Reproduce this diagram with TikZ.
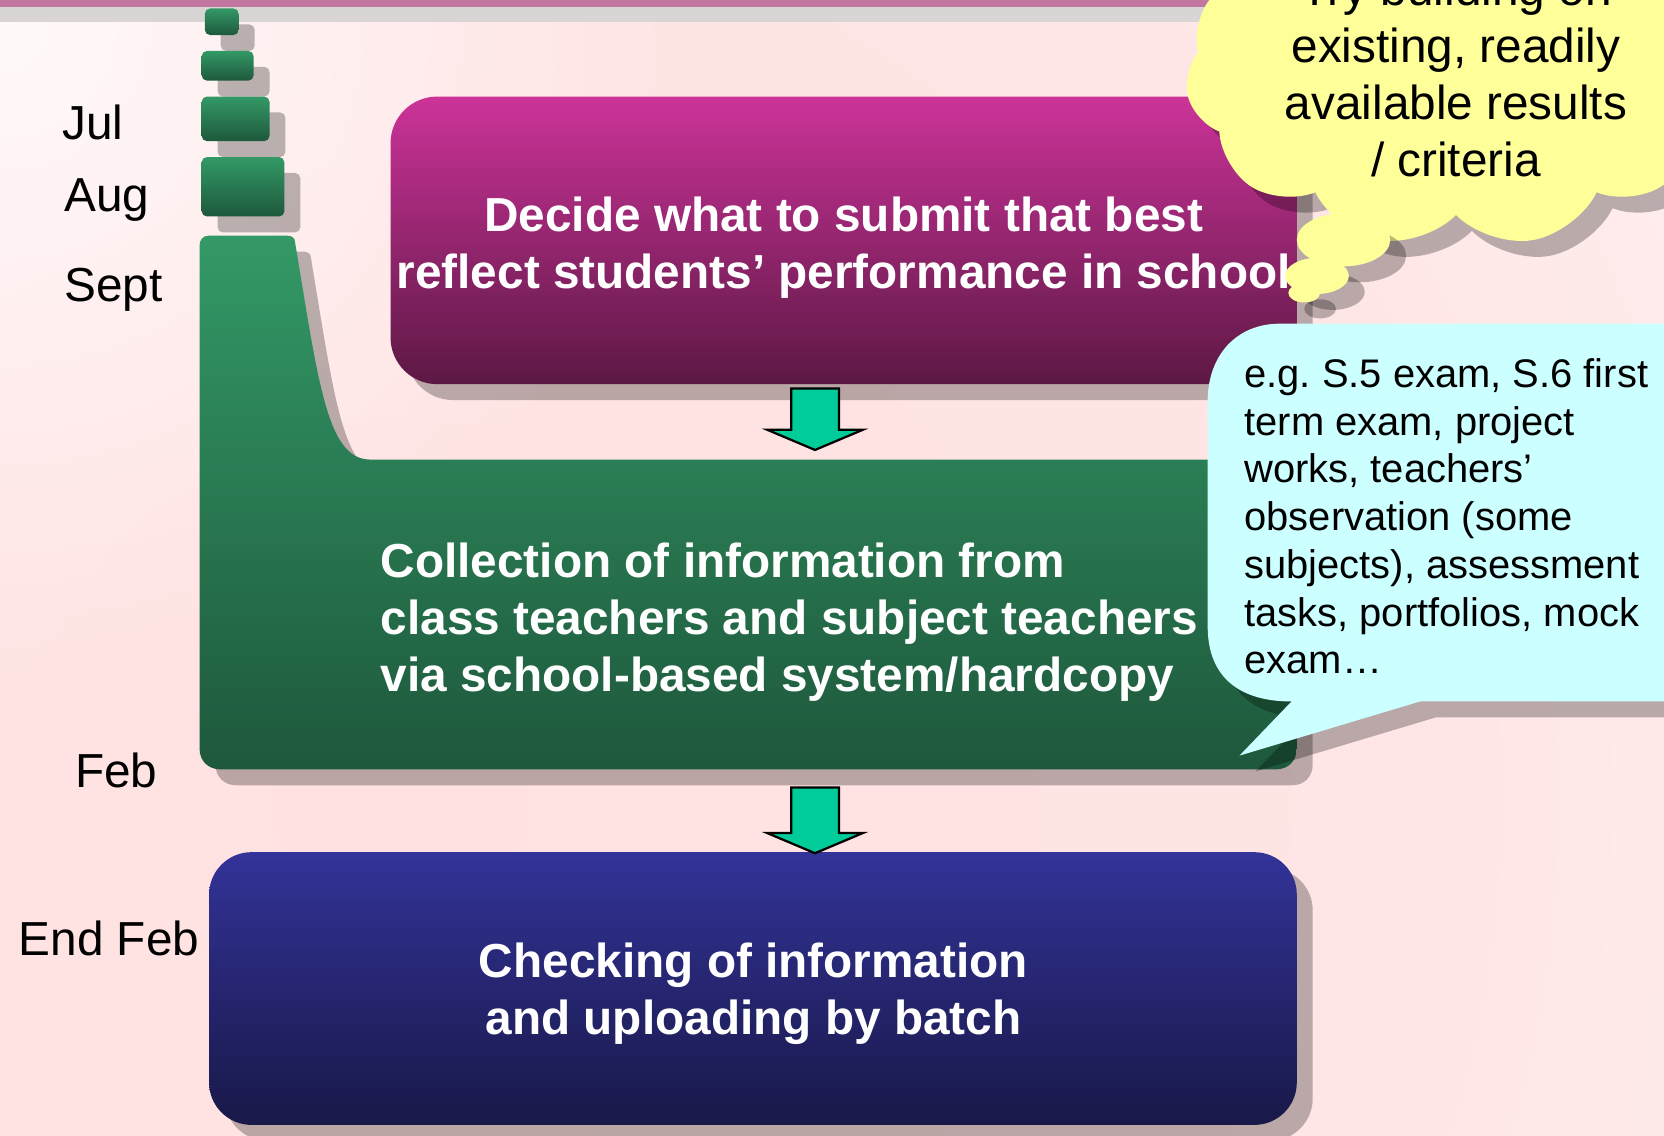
\documentclass[tikz,border=0pt]{standalone}
\usepackage{fontspec}
\setmainfont{Liberation Sans}
\usetikzlibrary{shapes.symbols,shadows,fadings,positioning}

\definecolor{bgdeep}{RGB}{255,225,225}
\definecolor{bgmid}{RGB}{255,229,229}
\definecolor{bglight}{RGB}{255,249,249}
\definecolor{bandpink}{RGB}{192,118,158}
\definecolor{bandgray}{RGB}{218,213,213}
\definecolor{greentop}{RGB}{51,153,102}
\definecolor{greenbot}{RGB}{30,88,60}
\definecolor{magtop}{RGB}{204,51,153}
\definecolor{magbot}{RGB}{92,24,68}
\definecolor{bluetop}{RGB}{51,51,153}
\definecolor{bluebot}{RGB}{24,24,72}
\definecolor{arrowgreen}{RGB}{0,204,153}
\definecolor{tipyellow}{RGB}{255,255,153}
\definecolor{notecyan}{RGB}{204,255,255}

% soft pink glow of the slide
\pgfdeclareradialshading{bgglow}{\pgfpoint{0bp}{0bp}}{color(0bp)=(bgdeep); color(12bp)=(bgmid); color(25bp)=(bglight); color(50bp)=(bglight)}
\tikzfading[name=cornerfade, inner color=transparent!0, outer color=transparent!100]

\tikzset{
  boxshadow/.style={drop shadow={shadow xshift=1.5mm,shadow yshift=-1.5mm,fill=black,opacity=.27}},
  greenpart/.style={top color=greentop,bottom color=greenbot,boxshadow},
  stagebox/.style={rounded corners=4.4mm,inner sep=0,boxshadow},
  stagetext/.style={text=white,font=\bfseries\fontsize{12.8}{15.3}\selectfont,align=center,inner sep=0},
  monthlabel/.style={font=\fontsize{12.8}{15.3}\selectfont,inner sep=0,anchor=base west},
  downarrow/.style={fill=arrowgreen,draw=black,line width=0.6pt,line join=miter}
}

\begin{document}
\frenchspacing
\begin{tikzpicture}[x=0.1mm,y=-0.1mm]
  \useasboundingbox (0,0) rectangle (1568,1070);
  \clip (0,0) rectangle (1568,1070);

  % background and top bands
  \fill[bgmid] (0,0) rectangle (1568,1070);
  \shade[shading=bgglow] (377,754) circle [radius=2000];
  \fill[white,opacity=.8,path fading=cornerfade] (0,21) circle [radius=640];
  \fill[bandpink] (0,0) rectangle (1568,7);
  \fill[bandgray] (0,7) rectangle (1568,21);

  % growing green blocks
  \foreach \xa/\ya/\xb/\yb in {193/8/225/33, 190/48/239/76, 190/91/254/133, 190/148/268/204}
    \path[greenpart,rounded corners=0.5mm] (\xa,\ya) rectangle (\xb,\yb);

  % big green stage
  \path[greenpart]
    (188,232) .. controls (188,226) and (191,222) .. (197,222)
    -- (270,222) .. controls (275,222) and (278,224) .. (278,228)
    .. controls (300,360) and (308,432) .. (348,433)
    -- (1207,433) .. controls (1216,433) and (1222,439) .. (1222,448)
    -- (1222,705) .. controls (1222,717) and (1214,725) .. (1202,725)
    -- (208,725) .. controls (196,725) and (188,717) .. (188,705)
    -- cycle;

  % magenta stage
  \node (decide) [stagebox,top color=magtop,bottom color=magbot,
    minimum width=85.4mm,minimum height=27.1mm] at (795,226.5) {};
  \node (decidetext) [stagetext] at (795,233)
    {Decide what to submit that best\\reflect students’ performance in school};

  \node (collecttext) [stagetext,align=left,anchor=west] at (358,586.5)
    {Collection of information from\\class teachers and subject teachers\\via school-based system/hardcopy};

  % blue stage
  \node (check) [stagebox,rounded corners=4mm,top color=bluetop,bottom color=bluebot,
    minimum width=102.5mm,minimum height=25.7mm] at (709.5,931.5) {};
  \node (checktext) [stagetext] at (710,936.5)
    {Checking of information\\and uploading by batch};

  % block arrows
  \coordinate (arrowa) at (768,366);
  \coordinate (arrowb) at (768,742);
  \foreach \a/\len in {arrowa/39, arrowb/43}
    \draw[downarrow] (\a) ++(-22.5,0) -- ++(0,\len) -- ++(-22.5,0) -- ++(45,19)
      -- ++(45,-19) -- ++(-22.5,0) -- ++(0,-\len) -- cycle;

  % cyan note
  \path[fill=notecyan,boxshadow]
    (1138,590) -- (1138,378) .. controls (1138,335) and (1165,305) .. (1206,305)
    -- (1620,305) -- (1620,661) -- (1338,661) -- (1168,712) -- (1217,661)
    .. controls (1170,661) and (1138,640) .. (1138,590) -- cycle;
  \node (notetext) [font=\fontsize{10.7}{12.8}\selectfont,align=left,inner sep=0,anchor=west]
    at (1172,486.5)
    {e.g. S.5 exam, S.6 first\\term exam, project\\works, teachers’\\observation (some\\subjects), assessment\\tasks, portfolios, mock\\exam…};

  % yellow thought cloud
  \node (tipcloud) [cloud,cloud puffs=11,cloud puff arc=110,aspect=1.6,
    minimum width=51mm,minimum height=33mm,fill=tipyellow,inner sep=0,boxshadow] at (1372,68) {};
  \foreach \cx/\cy/\rx/\ry in {1266/226/4.4/2.5, 1241/260/3/1.7, 1229/276/1.5/0.9}
    \path[fill=tipyellow,boxshadow] (\cx,\cy) ellipse [x radius=\rx mm,y radius=\ry mm];
  \node (tiptext) [font=\fontsize{12.8}{15.3}\selectfont,align=center,inner sep=0] at (1372,70)
    {Try building on\\existing, readily\\available results\\/ criteria};

  % months
  \node (jul) [monthlabel] at (58,131) {Jul};
  \node (aug) [monthlabel] at (60,199) {Aug};
  \node (sept) [monthlabel] at (60,284) {Sept};
  \node (feb) [monthlabel] at (70,742) {Feb};
  \node (endfeb) [monthlabel] at (17,900) {End Feb};
\end{tikzpicture}
\end{document}
